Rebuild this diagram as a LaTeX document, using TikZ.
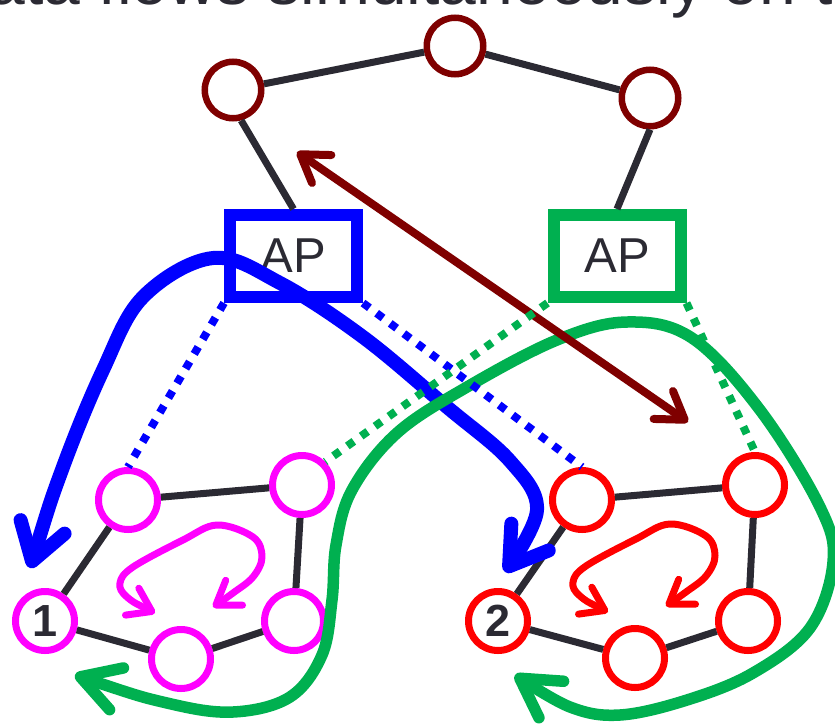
\documentclass[tikz,border=0pt]{standalone}
\usepackage{fontspec}
\setmainfont{Liberation Sans}
\usetikzlibrary{arrows.meta}
\definecolor{maroonc}{RGB}{127,0,0}
\definecolor{darkc}{RGB}{43,42,51}
\definecolor{greenc}{RGB}{0,176,80}
\definecolor{magc}{RGB}{255,0,255}
\definecolor{redc}{RGB}{255,0,0}
\definecolor{bluec}{RGB}{0,0,255}
\begin{document}
\begin{tikzpicture}[x=1pt,y=-1pt,
  topnode/.style={circle, draw=maroonc, line width=6.5pt, minimum size=56.5pt, inner sep=0pt, fill=white},
  ringnode/.style={circle, draw=#1, line width=7pt, minimum size=59pt, inner sep=0pt, fill=white, text=darkc, font=\fontsize{45}{45}\selectfont\bfseries},
  apbox/.style={rectangle, draw=#1, line width=12pt, minimum width=127pt, minimum height=82pt, inner sep=0pt, text=darkc, font=\fontsize{49}{49}\selectfont},
  link/.style={draw=darkc, line width=7pt},
  dotlink/.style={draw=#1, line width=8pt, dash pattern=on 8pt off 9pt},
  flowline/.style={draw=#1, line cap=round, line join=round},
  bigflow/.style={flowline=bluec, line width=14pt,
     arrows={Straight Barb[length=36pt,width=46pt,round]-Straight Barb[length=36pt,width=46pt,round]}},
  greenflow/.style={flowline=greenc, line width=11.5pt,
     arrows={Straight Barb[length=38pt,width=44pt,round]-Straight Barb[length=38pt,width=44pt,round]}},
  linkflow/.style={flowline=maroonc, line width=8pt,
     arrows={Straight Barb[length=26pt,width=34pt,round]-Straight Barb[length=26pt,width=34pt,round]}},
  loopflow/.style={flowline=#1, line width=7pt,
     arrows={Straight Barb[length=22pt,width=30pt,round]-Straight Barb[length=22pt,width=30pt,round]}},
]
\useasboundingbox (0,0) rectangle (835,723);
\clip (0,0) rectangle (835,723);

% cropped title
\node[anchor=base west, inner sep=0pt, text=darkc, font=\fontsize{66}{72}\selectfont] (title) at (-48,4) {data flows simultaneously on t};

% top ring
\node[topnode] (ltop) at (233,90) {};
\node[topnode] (mtop) at (455,46) {};
\node[topnode] (rtop) at (650,98) {};

% access points
\node[apbox=bluec] (apb) at (293.5,256) {AP\hspace{12pt}};
\node[apbox=greenc] (apg) at (617,256) {AP\hspace{10pt}};

% left ring
\node[ringnode=magc] (n1) at (45,621) {1};
\node[ringnode=magc] (a1) at (128,500) {};
\node[ringnode=magc] (a2) at (302,485) {};
\node[ringnode=magc] (a3) at (294,621) {};
\node[ringnode=magc] (a4) at (181,659) {};

% right ring
\node[ringnode=redc] (n2) at (498,621) {2};
\node[ringnode=redc] (b1) at (582,500) {};
\node[ringnode=redc] (b2) at (755,485) {};
\node[ringnode=redc] (b3) at (748,621) {};
\node[ringnode=redc] (b4) at (635,658) {};

% links
\draw[link] (ltop) -- (mtop);
\draw[link] (mtop) -- (rtop);
\draw[link] (ltop.-75) -- (apb.north);
\draw[link] (rtop.south) -- (apg.north);
\draw[link] (n1) -- (a1);
\draw[link] (a1) -- (a2);
\draw[link] (a2) -- (a3);
\draw[link] (a3) -- (a4);
\draw[link] (a4) -- (n1);
\draw[link] (n2) -- (b1);
\draw[link] (b1) -- (b2);
\draw[link] (b2) -- (b3);
\draw[link] (b3) -- (b4);
\draw[link] (b4) -- (n2);

% blue flow
\draw[bigflow] plot[smooth, tension=0.6] coordinates {(30,568) (63,467) (103,370) (143,297) (213,258) (280,283) (363,337) (447,407) (510,461) (537,510) (505,572)};

% green flow
\draw[greenflow] plot[smooth, tension=0.6] coordinates {(75,675) (167,703) (233,712) (290,697) (322,655) (332,600) (336,545) (352,490) (397,433) (467,387) (557,340) (627,322) (692,338) (760,410) (820,507) (833,562) (810,628) (753,673) (687,700) (620,715) (570,707) (515,675)};

% maroon link arrow
\coordinate (m1) at (297,152);
\coordinate (m2) at (688,422);
\draw[linkflow] (m1) -- (m2);

% dotted associations
\draw[dotlink=bluec] (apb.south west) -- (a1.north);
\draw[dotlink=bluec] (apb.south east) -- (b1.north);
\draw[dotlink=greenc] (apg.south west) -- (a2.north east);
\draw[dotlink=greenc] (apg.south east) -- (b2.north);

% local loops
\draw[loopflow=magc] plot[smooth, tension=0.6] coordinates {(155,613) (127,597) (120,583) (133,567) (183,540) (217,525) (253,537) (262,557) (253,577) (233,593) (213,607)};
\begin{scope}[shift={(453,-1)}]
\draw[loopflow=redc] plot[smooth, tension=0.6] coordinates {(155,613) (127,597) (120,583) (133,567) (183,540) (217,525) (253,537) (262,557) (253,577) (233,593) (213,607)};
\end{scope}
\end{tikzpicture}
\end{document}
